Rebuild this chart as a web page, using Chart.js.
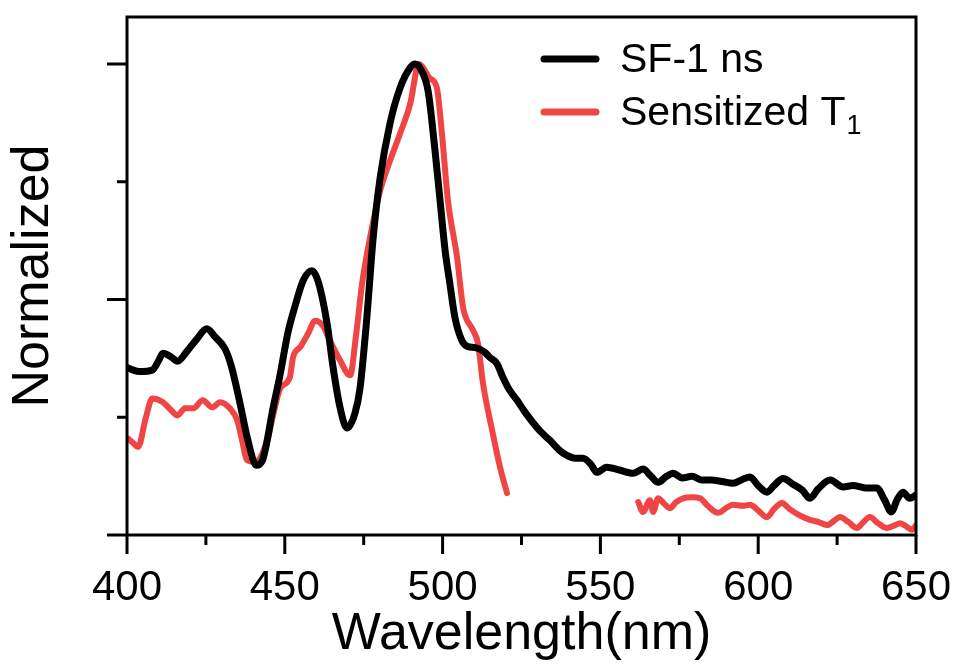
<!DOCTYPE html>
<html>
<head>
<meta charset="utf-8">
<script src="https://cdn.jsdelivr.net/npm/chart.js@4/dist/chart.umd.min.js"></script>
<style>
  html, body { margin: 0; padding: 0; background: #fff; }
  canvas { display: block; }
</style>
</head>
<body>
<canvas id="spectraChart" width="957" height="669"></canvas>
<script>
// SF-1 ns spectrum (black)
const sfWavelength = [400, 402, 404, 408, 410, 411.4, 414, 416, 419, 422, 425.3, 428, 431, 433, 435.8, 438, 441, 443, 444.4, 446, 448.5, 451, 453.2, 455.8, 458.6, 460.5, 463.4, 465.3, 467.5, 469.7, 472.2, 473.8, 476, 478, 480.2, 483.3, 486.5, 489.7, 491.3, 493, 495.4, 497.6, 499.2, 500.8, 502.3, 503.9, 506.1, 508, 510.3, 513, 515, 517.2, 519.1, 521, 523.6, 526, 528.6, 531, 534, 537, 539.4, 542, 544.5, 547, 548.9, 552, 556, 560.3, 563.5, 566, 568.3, 571, 573, 576, 579, 582, 585, 589, 592, 595, 597.4, 600, 602.8, 605, 607.9, 611, 614, 616.4, 619, 622.8, 626.9, 630, 634, 637.6, 640, 642.2, 644, 645.9, 648, 650];
const sfValue = [0.356, 0.35, 0.347, 0.35, 0.37, 0.386, 0.378, 0.369, 0.39, 0.415, 0.438, 0.42, 0.396, 0.36, 0.28, 0.21, 0.148, 0.16, 0.2, 0.26, 0.34, 0.43, 0.485, 0.54, 0.561, 0.54, 0.449, 0.356, 0.271, 0.227, 0.258, 0.31, 0.462, 0.631, 0.758, 0.873, 0.949, 0.992, 1.0, 0.99, 0.943, 0.816, 0.71, 0.604, 0.534, 0.462, 0.413, 0.4, 0.398, 0.39, 0.377, 0.364, 0.335, 0.31, 0.286, 0.262, 0.239, 0.22, 0.201, 0.18, 0.169, 0.163, 0.163, 0.15, 0.133, 0.144, 0.138, 0.131, 0.14, 0.125, 0.112, 0.125, 0.131, 0.121, 0.125, 0.117, 0.117, 0.113, 0.11, 0.118, 0.123, 0.105, 0.091, 0.105, 0.12, 0.108, 0.095, 0.078, 0.098, 0.117, 0.102, 0.105, 0.1, 0.1, 0.075, 0.049, 0.075, 0.091, 0.078, 0.085];

// Sensitized T1 spectrum (red), gap between 520 and 562 nm
const t1Wavelength = [400.3, 402, 403.5, 406, 408, 411.4, 414, 416, 418.4, 421, 424, 427, 429.5, 432.6, 434.9, 436.5, 438, 440.6, 444.4, 446.5, 448.5, 451.6, 452.6, 455, 457.4, 459.6, 462, 464.5, 467.5, 470.7, 472.5, 474.5, 477, 480.2, 483.3, 486.5, 489.7, 492.5, 496, 498.2, 499.8, 501.7, 504.6, 506.5, 509.7, 511.2, 512.8, 515.7, 518.2, 520.4, 530,
  562, 563.5, 565.7, 566.7, 568.3, 570, 572, 574, 576.2, 579, 581.6, 584, 587.3, 590, 592, 595, 597.4, 600, 602.8, 605, 607.5, 610, 613, 616.4, 619, 621.8, 624, 625.9, 628.5, 631.3, 633, 635.4, 638, 640.8, 643, 645, 647, 648.7, 650];
const t1Value = [0.205, 0.195, 0.187, 0.25, 0.29, 0.282, 0.265, 0.254, 0.269, 0.269, 0.286, 0.271, 0.282, 0.269, 0.244, 0.2, 0.159, 0.155, 0.2, 0.26, 0.311, 0.335, 0.377, 0.4, 0.428, 0.455, 0.445, 0.41, 0.371, 0.339, 0.42, 0.534, 0.631, 0.731, 0.794, 0.852, 0.915, 1.0, 0.97, 0.949, 0.852, 0.71, 0.589, 0.483, 0.434, 0.407, 0.322, 0.222, 0.144, 0.089, null,
  0.07, 0.049, 0.074, 0.049, 0.078, 0.068, 0.057, 0.07, 0.078, 0.08, 0.078, 0.062, 0.047, 0.058, 0.064, 0.062, 0.064, 0.052, 0.038, 0.055, 0.068, 0.055, 0.042, 0.032, 0.028, 0.021, 0.03, 0.038, 0.028, 0.015, 0.025, 0.038, 0.025, 0.015, 0.02, 0.025, 0.018, 0.011, 0.021];

const seriesLabels = ['SF-1 ns', 'Sensitized T'];
const seriesSubscripts = ['', '1'];
const seriesColors = ['#000000', '#f04545'];

const xMajorTicks = [400, 450, 500, 550, 600, 650];
const xMinorTicks = [425, 475, 525, 575, 625];
const yMajorTicks = [0, 0.5, 1.0];
const yMinorTicks = [0.25, 0.75];

const FONT = '"Liberation Sans", Arial, sans-serif';

function toPoints(xs, ys) {
    return xs.map((x, i) => ({ x: x, y: ys[i] }));
}

// frame, tick marks and legend
const framePlugin = {
    id: 'framePlugin',
    afterDraw(chart) {
        const ctx = chart.ctx;
        const a = chart.chartArea;
        const xs = chart.scales.x;
        const ys = chart.scales.y;
        ctx.save();
        ctx.strokeStyle = '#000';
        ctx.lineWidth = 3;
        ctx.lineCap = 'butt';
        ctx.strokeRect(a.left, a.top, a.right - a.left, a.bottom - a.top);
        ctx.beginPath();
        xMajorTicks.forEach(v => { const p = xs.getPixelForValue(v); ctx.moveTo(p, a.bottom); ctx.lineTo(p, a.bottom + 19); });
        xMinorTicks.forEach(v => { const p = xs.getPixelForValue(v); ctx.moveTo(p, a.bottom); ctx.lineTo(p, a.bottom + 10); });
        yMajorTicks.forEach(v => { const p = ys.getPixelForValue(v); ctx.moveTo(a.left, p); ctx.lineTo(a.left - 20, p); });
        yMinorTicks.forEach(v => { const p = ys.getPixelForValue(v); ctx.moveTo(a.left, p); ctx.lineTo(a.left - 10, p); });
        ctx.stroke();

        // legend
        ctx.lineCap = 'round';
        ctx.lineWidth = 7;
        ctx.textBaseline = 'middle';
        ctx.textAlign = 'left';
        seriesLabels.forEach((label, i) => {
            const y = 59 + i * 53;
            ctx.strokeStyle = seriesColors[i];
            ctx.beginPath();
            ctx.moveTo(544, y);
            ctx.lineTo(596, y);
            ctx.stroke();
            ctx.fillStyle = '#000';
            ctx.font = '41px ' + FONT;
            ctx.fillText(label, 620, y + 2);
            if (seriesSubscripts[i]) {
                const w = ctx.measureText(label).width;
                ctx.font = '27px ' + FONT;
                ctx.fillText(seriesSubscripts[i], 620 + w + 1, y + 15);
            }
        });
        ctx.restore();
    }
};

new Chart(document.getElementById('spectraChart'), {
    type: 'line',
    data: {
        datasets: [
            { label: seriesLabels[0], data: toPoints(sfWavelength, sfValue), borderColor: seriesColors[0], borderWidth: 7 },
            { label: seriesLabels[1] + seriesSubscripts[1], data: toPoints(t1Wavelength, t1Value), borderColor: seriesColors[1], borderWidth: 6, spanGaps: false }
        ]
    },
    options: {
        responsive: false,
        animation: false,
        parsing: false,
        elements: {
            point: { radius: 0 },
            line: { cubicInterpolationMode: 'monotone', borderJoinStyle: 'round', borderCapStyle: 'round' }
        },
        layout: { padding: { top: 17, right: 41, left: 0, bottom: 0 } },
        plugins: { legend: { display: false }, tooltip: { enabled: false } },
        scales: {
            x: {
                type: 'linear', min: 400, max: 650,
                afterFit: s => { s.height = 134; s.paddingLeft = 0; s.paddingRight = 0; },
                afterBuildTicks: s => { s.ticks = xMajorTicks.map(v => ({ value: v })); },
                grid: { display: false, drawTicks: false },
                border: { display: false },
                ticks: { color: '#000', padding: 28, maxRotation: 0, font: { family: FONT, size: 42 } },
                title: { display: true, text: 'Wavelength(nm)', color: '#000', padding: { top: 0, bottom: 3 }, font: { family: FONT, size: 52 } }
            },
            y: {
                type: 'linear', min: 0, max: 1.1,
                afterFit: s => { s.width = 127; },
                grid: { display: false, drawTicks: false },
                border: { display: false },
                ticks: { display: false },
                title: { display: true, text: 'Normalized', color: '#000', padding: { top: 2, bottom: 0 }, font: { family: FONT, size: 52 } }
            }
        }
    },
    plugins: [framePlugin]
});
</script>
</body>
</html>
